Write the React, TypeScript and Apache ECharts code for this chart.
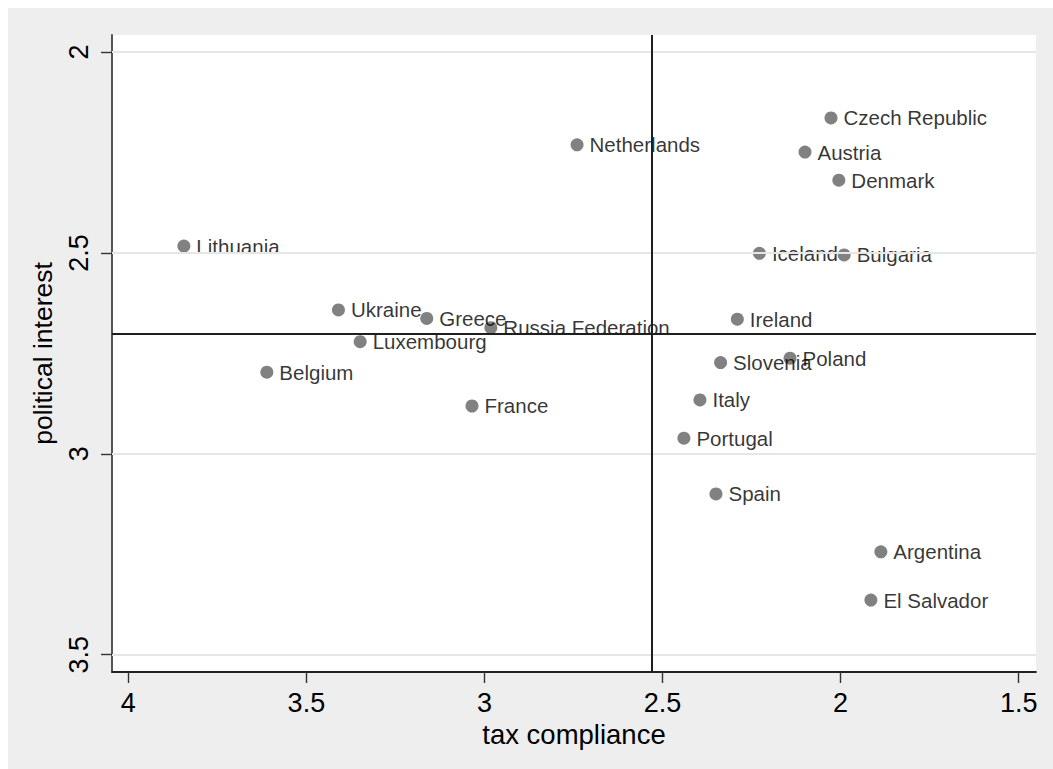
import React, { useEffect, useRef } from "react";
import * as echarts from "echarts";

const countries = [
  "Czech Republic", "Netherlands", "Austria", "Denmark", "Lithuania",
  "Iceland", "Bulgaria", "Ireland", "Slovenia", "Poland",
  "Ukraine", "Greece", "Russia Federation", "Luxembourg", "Belgium",
  "France", "Italy", "Portugal", "Spain", "Argentina", "El Salvador",
];
const taxCompliance = [
  2.027, 2.740, 2.100, 2.005, 3.844,
  2.228, 1.990, 2.290, 2.337, 2.142,
  3.410, 3.162, 2.982, 3.349, 3.611,
  3.035, 2.395, 2.440, 2.350, 1.887, 1.915,
];
const politicalInterest = [
  2.164, 2.231, 2.249, 2.319, 2.483,
  2.501, 2.505, 2.665, 2.773, 2.762,
  2.642, 2.663, 2.686, 2.721, 2.797,
  2.881, 2.866, 2.961, 3.100, 3.244, 3.364,
];
const xTicks = [1.5, 2, 2.5, 3, 3.5, 4];
const yTicks = [2, 2.5, 3, 3.5];
const meanTax = 2.53;
const meanInterest = 2.697;

const FONT = "'Liberation Sans', Arial, Helvetica, sans-serif";

export default function App() {
  const ref = useRef<HTMLDivElement>(null);
  useEffect(() => {
    if (!ref.current) return;
    const chart = echarts.init(ref.current, null, { renderer: "svg" });
    const points = countries.map((c, i) => ({
      name: c,
      value: [taxCompliance[i], politicalInterest[i]],
    }));
    chart.setOption({
      animation: false,
      backgroundColor: "#eeeeee",
      textStyle: { fontFamily: FONT },
      grid: {
        left: 104,
        top: 27,
        width: 924,
        height: 637,
        show: true,
        backgroundColor: "#ffffff",
        borderWidth: 0,
      },
      xAxis: {
        type: "value",
        inverse: true,
        min: 1.4514,
        max: 4.0458,
        name: "tax compliance",
        nameLocation: "middle",
        nameGap: 44,
        nameTextStyle: { fontSize: 27.5, color: "#000", fontFamily: FONT },
        axisLine: { show: true, onZero: false, lineStyle: { color: "#222", width: 1.8 } },
        axisTick: {
          show: true,
          length: 11,
          customValues: xTicks,
          lineStyle: { color: "#333", width: 1.4 },
        },
        axisLabel: {
          customValues: xTicks,
          fontSize: 27,
          color: "#000",
          margin: 17,
          fontFamily: FONT,
        },
        splitLine: { show: false },
      },
      yAxis: {
        type: "value",
        inverse: true,
        min: 1.9577,
        max: 3.543,
        name: "political interest",
        nameLocation: "middle",
        nameGap: 56,
        nameTextStyle: { fontSize: 26.5, color: "#000", fontFamily: FONT },
        axisLine: { show: true, onZero: false, lineStyle: { color: "#444", width: 1.8 } },
        axisTick: {
          show: true,
          length: 11,
          customValues: yTicks,
          lineStyle: { color: "#333", width: 1.4 },
        },
        axisLabel: {
          customValues: yTicks,
          fontSize: 27,
          color: "#000",
          rotate: 90,
          margin: 20,
          fontFamily: FONT,
        },
        splitLine: { show: false },
      },
      series: [
        {
          type: "scatter",
          data: [],
          z: 0,
          silent: true,
          markLine: {
            silent: true,
            symbol: "none",
            label: { show: false },
            lineStyle: { color: "#e6e6e6", width: 2, type: "solid" },
            data: yTicks.map((v) => ({ yAxis: v })),
          },
        },
        {
          type: "scatter",
          z: 3,
          symbol: "circle",
          symbolSize: 13,
          itemStyle: { color: "#626262" },
          data: points,
          label: {
            show: true,
            position: "right",
            distance: 6,
            formatter: (p: any) => p.name,
            fontSize: 20.5,
            color: "#000",
            fontFamily: FONT,
          },
          markLine: {
            silent: true,
            symbol: "none",
            label: { show: false },
            lineStyle: { color: "#1e1e1e", width: 2, type: "solid" },
            data: [{ xAxis: meanTax }, { yAxis: meanInterest }],
          },
        },
      ],
    });
    return () => chart.dispose();
  }, []);
  return (
    <div
      ref={ref}
      style={{
        position: "fixed",
        left: 8,
        top: 8,
        width: 1100,
        height: 820,
        background: "#eeeeee",
      }}
    />
  );
}
